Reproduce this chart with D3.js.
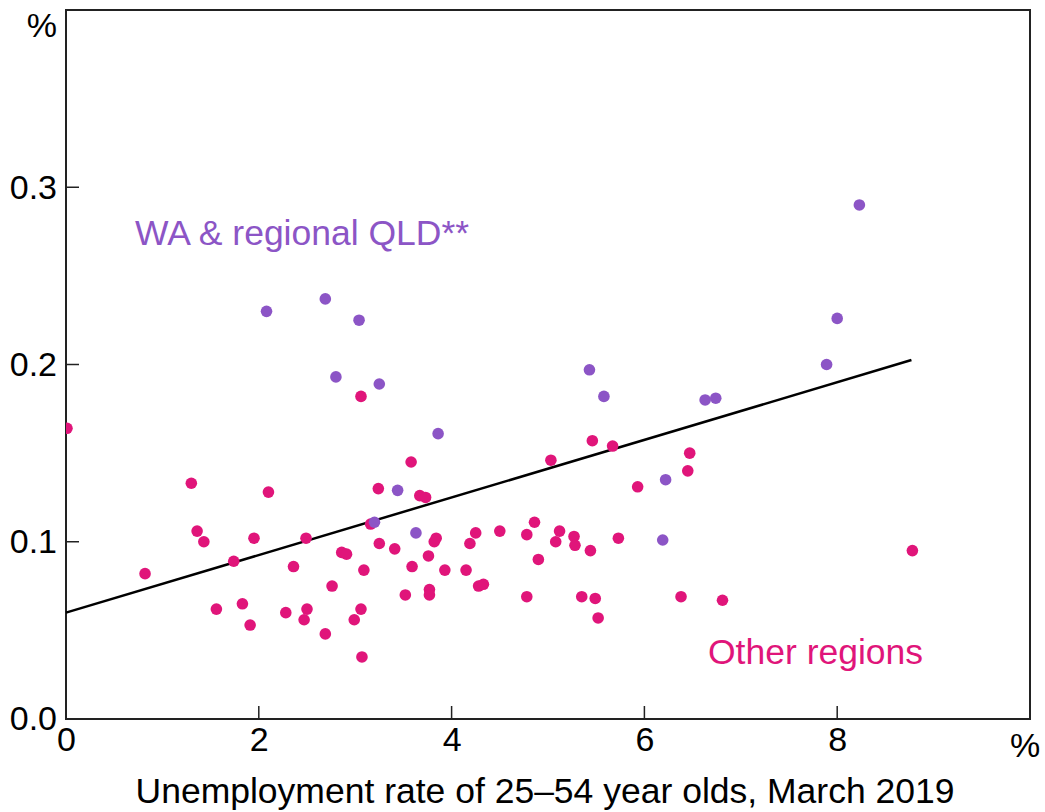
<!DOCTYPE html>
<html>
<head>
<meta charset="utf-8">
<script src="https://cdn.jsdelivr.net/npm/d3@7/dist/d3.min.js"></script>
<style>
  html, body { margin: 0; padding: 0; background: #fff; }
  svg { display: block; }
  text { font-family: "Liberation Sans", Arial, sans-serif; }
</style>
</head>
<body>
<svg id="chart" width="1045" height="812"></svg>
<script>
// ---- Data ----
const waX = [2.08, 2.69, 3.04, 2.80, 3.25, 3.44, 3.20, 3.86, 3.63, 5.43, 5.58, 6.63, 6.74, 6.22, 6.19, 7.89, 8.00, 8.23];
const waY = [0.230, 0.237, 0.225, 0.193, 0.189, 0.129, 0.111, 0.161, 0.105, 0.197, 0.182, 0.180, 0.181, 0.135, 0.101, 0.200, 0.226, 0.290];

const otherX = [0.01, 0.82, 1.30, 1.36, 1.43, 1.56, 1.74, 1.83, 1.91, 1.95, 2.10, 2.28, 2.36, 2.47, 2.49, 2.50,
  2.69, 2.76, 2.86, 2.91, 2.99, 3.06, 3.06, 3.07, 3.09, 3.16, 3.24, 3.25, 3.41, 3.52, 3.58, 3.59, 3.67, 3.73,
  3.76, 3.77, 3.77, 3.82, 3.84, 3.93, 4.15, 4.19, 4.25, 4.28, 4.33, 4.50, 4.78, 4.78, 4.86, 4.90, 5.03, 5.08,
  5.12, 5.27, 5.28, 5.35, 5.44, 5.46, 5.49, 5.52, 5.67, 5.73, 5.93, 6.38, 6.45, 6.47, 6.81, 8.78];
const otherY = [0.164, 0.082, 0.133, 0.106, 0.100, 0.062, 0.089, 0.065, 0.053, 0.102, 0.128, 0.060, 0.086, 0.056, 0.102, 0.062,
  0.048, 0.075, 0.094, 0.093, 0.056, 0.182, 0.062, 0.035, 0.084, 0.110, 0.130, 0.099, 0.096, 0.070, 0.145, 0.086, 0.126, 0.125,
  0.092, 0.073, 0.070, 0.100, 0.102, 0.084, 0.084, 0.099, 0.105, 0.075, 0.076, 0.106, 0.104, 0.069, 0.111, 0.090, 0.146, 0.100,
  0.106, 0.103, 0.098, 0.069, 0.095, 0.157, 0.068, 0.057, 0.154, 0.102, 0.131, 0.069, 0.140, 0.150, 0.067, 0.095];

const trendX = [0, 8.77];
const trendY = [0.060, 0.2025];

const xTicks = [0, 2, 4, 6, 8];
const yTicks = [0.0, 0.1, 0.2, 0.3];

// ---- Layout ----
const pLeft = 66, pRight = 1030, pTop = 10, pBottom = 719;
const purple = "#8c55c6";
const pink = "#e0157a";
const fs = 34;
const fsBig = 35.5;

const svg = d3.select("#chart");
const x = d3.scaleLinear().domain([0, 10]).range([pLeft, pRight]);
const y = d3.scaleLinear().domain([0, 0.4]).range([pBottom, pTop]);

// Frame
svg.append("rect")
  .attr("x", pLeft).attr("y", pTop)
  .attr("width", pRight - pLeft).attr("height", pBottom - pTop)
  .attr("fill", "none").attr("stroke", "#222").attr("stroke-width", 2);

// X ticks (inside, pointing up)
const xAxis = d3.axisBottom(x).tickValues(xTicks).tickSize(0).tickPadding(8)
  .tickFormat(d3.format("d"));
const gx = svg.append("g").attr("transform", `translate(0,${pBottom})`).call(xAxis);
gx.select(".domain").remove();
gx.selectAll("text").attr("font-size", fs).attr("fill", "#000")
  .attr("font-family", "'Liberation Sans', Arial, sans-serif");
svg.append("g").selectAll("line").data(xTicks.filter(d => d > 0)).join("line")
  .attr("x1", d => x(d)).attr("x2", d => x(d))
  .attr("y1", pBottom).attr("y2", pBottom - 13)
  .attr("stroke", "#222").attr("stroke-width", 1.5);

// Y ticks (inside, pointing right)
const yAxis = d3.axisLeft(y).tickValues(yTicks).tickSize(0).tickPadding(9)
  .tickFormat(d3.format(".1f"));
const gy = svg.append("g").attr("transform", `translate(${pLeft},0)`).call(yAxis);
gy.select(".domain").remove();
gy.selectAll("text").attr("font-size", fs).attr("fill", "#000")
  .attr("font-family", "'Liberation Sans', Arial, sans-serif");
svg.append("g").selectAll("line").data(yTicks.filter(d => d > 0)).join("line")
  .attr("x1", pLeft).attr("x2", pLeft + 13)
  .attr("y1", d => y(d)).attr("y2", d => y(d))
  .attr("stroke", "#222").attr("stroke-width", 1.5);

// Unit labels
svg.append("text").attr("x", pLeft - 9).attr("y", 37).attr("text-anchor", "end")
  .attr("font-size", fs).text("%");
svg.append("text").attr("x", 1025).attr("y", 757).attr("text-anchor", "middle")
  .attr("font-size", fs).text("%");

// X axis title
svg.append("text").attr("x", 545).attr("y", 803).attr("text-anchor", "middle")
  .attr("font-size", fsBig).text("Unemployment rate of 25–54 year olds, March 2019");

// Trend line
const line = d3.line().x(d => x(d[0])).y(d => y(d[1]));
svg.append("path").datum(d3.zip(trendX, trendY)).attr("d", line)
  .attr("fill", "none").attr("stroke", "#000").attr("stroke-width", 2.5);

// Points (clipped to the plot area)
svg.append("clipPath").attr("id", "plotclip").append("rect")
  .attr("x", pLeft).attr("y", pTop).attr("width", pRight - pLeft).attr("height", pBottom - pTop);

svg.append("g").attr("clip-path", "url(#plotclip)")
  .selectAll("circle").data(d3.zip(otherX, otherY)).join("circle")
  .attr("cx", d => x(d[0])).attr("cy", d => y(d[1])).attr("r", 5.8)
  .attr("fill", pink);

svg.append("g").attr("clip-path", "url(#plotclip)")
  .selectAll("circle").data(d3.zip(waX, waY)).join("circle")
  .attr("cx", d => x(d[0])).attr("cy", d => y(d[1])).attr("r", 5.8)
  .attr("fill", purple);

// Series labels
svg.append("text").attr("x", 135).attr("y", 245).attr("font-size", fsBig)
  .attr("fill", purple).text("WA & regional QLD**");
svg.append("text").attr("x", 708).attr("y", 664).attr("font-size", fsBig)
  .attr("fill", pink).text("Other regions");
</script>
</body>
</html>
